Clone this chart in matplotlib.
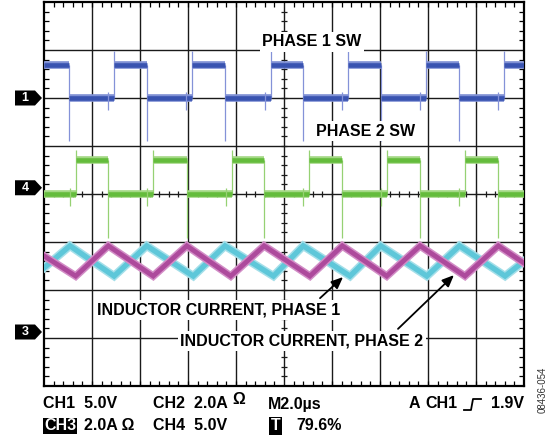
"""Two-phase buck: switch nodes and inductor currents, scope capture."""
import matplotlib.pyplot as plt
from matplotlib.patches import Polygon
from matplotlib.lines import Line2D
from matplotlib.ticker import MultipleLocator
import numpy as np

plt.rcParams['font.family'] = ['Liberation Sans', 'DejaVu Sans']

W, H = 552, 438
T_SPAN_US = 20.0          # 10 div x 2.0 us
N_VDIV = 8

# Phase 1 switch node (CH1, divisions)
PH1_RISE_US = [2.92, 6.15, 9.45, 12.65, 15.90, 19.17]
PH1_FALL_US = [1.05, 4.28, 7.54, 10.80, 14.03, 17.29]
PH1_LEVELS = {"high": 6.69, "low": 6.00, "spike_up": 6.98, "spike_down": 5.10}

# Phase 2 switch node (CH4, divisions)
PH2_RISE_US = [1.32, 4.55, 7.82, 11.05, 14.30, 17.54]
PH2_FALL_US = [2.68, 5.95, 9.17, 12.43, 15.67, 18.90]
PH2_LEVELS = {"high": 4.71, "low": 4.00, "spike_up": 4.92, "spike_down": 3.08}

# Inductor currents (CH3 / CH2), vertex times and levels in divisions
IL1_T_US = [0.0, 1.08, 2.92, 4.28, 6.22, 7.54, 9.56, 10.80, 12.75, 14.03,
            15.95, 17.31, 19.21, 20.0]
IL1_DIV = [2.46, 2.92, 2.29, 2.92, 2.29, 2.92, 2.29, 2.92, 2.29, 2.92,
           2.29, 2.92, 2.29, 2.60]
IL2_T_US = [0.0, 1.32, 2.68, 4.55, 5.95, 7.78, 9.17, 11.08, 12.43, 14.28,
            15.67, 17.54, 18.93, 20.0]
IL2_DIV = [2.71, 2.29, 2.92, 2.29, 2.92, 2.29, 2.92, 2.29, 2.92, 2.29,
           2.92, 2.29, 2.92, 2.56]

# channel ground markers (divisions)
MARKERS = {"1": 6.0, "4": 4.13, "3": 1.125}


def fx(x):
    return x / W


def fy(y):
    return 1 - y / H


def draw_switch(ax, rise, fall, lv, dark, light, edge):
    events = sorted([(t, 1) for t in rise] + [(t, 0) for t in fall])
    level = lv["low"] if events[0][1] == 1 else lv["high"]
    t0 = 0.0
    for t, kind in events + [(T_SPAN_US, None)]:
        ax.hlines(level, t0, t, colors=light, lw=5.5, zorder=3, capstyle="butt")
        ax.hlines(level, t0, t, colors=dark, lw=3.3, zorder=4, capstyle="butt")
        if kind is None:
            break
        level = lv["high"] if kind else lv["low"]
        t0 = t
    ax.vlines(rise, lv["low"], lv["spike_up"], colors=edge, lw=0.9, zorder=3)
    ax.vlines(fall, lv["spike_down"], lv["high"], colors=edge, lw=0.9, zorder=3)
    # small dead-time glitches just ahead of each rising edge
    gl = np.array(rise) - 0.25
    ax.vlines(gl, lv["low"] - 0.25, lv["low"] + 0.12, colors=edge, lw=0.9, zorder=5)


fig = plt.figure(figsize=(W / 100, H / 100), dpi=100)
ax = fig.add_axes([fx(44), 52 / H, 480 / W, 384 / H])
ax.set_xlim(0, T_SPAN_US)
ax.set_ylim(0, N_VDIV)

# graticule
for x in np.arange(2, T_SPAN_US, 2):
    ax.axvline(x, color="#1a1a1a", lw=1.0, zorder=1)
for y in range(1, N_VDIV):
    ax.axhline(y, color="#1a1a1a", lw=1.0, zorder=1)
for s in ax.spines.values():
    s.set_linewidth(1.6)
ax.xaxis.set_minor_locator(MultipleLocator(0.4))
ax.yaxis.set_minor_locator(MultipleLocator(0.2))
ax.tick_params(which="major", length=0, labelbottom=False, labelleft=False)
ax.tick_params(which="minor", direction="in", length=3.8, width=0.9,
               top=True, right=True, bottom=True, left=True)
cx = np.arange(0.4, T_SPAN_US, 0.4)
cy = np.arange(0.2, N_VDIV, 0.2)
ax.plot(cx, np.full_like(cx, N_VDIV / 2), ls="none", marker="|", ms=4.5,
        mew=0.9, color="#1a1a1a", zorder=1)
ax.plot(np.full_like(cy, T_SPAN_US / 2), cy, ls="none", marker="_", ms=4.5,
        mew=0.9, color="#1a1a1a", zorder=1)

# traces
draw_switch(ax, PH1_RISE_US, PH1_FALL_US, PH1_LEVELS,
            "#3953b0", "#7f90d4", "#8492d8")
draw_switch(ax, PH2_RISE_US, PH2_FALL_US, PH2_LEVELS,
            "#64bc3c", "#a3d885", "#96d173")
ax.plot(IL1_T_US, IL1_DIV, color="#a4dfe9", lw=6.0, zorder=3,
        solid_joinstyle="miter")
ax.plot(IL1_T_US, IL1_DIV, color="#5ec7d9", lw=3.8, zorder=4,
        solid_joinstyle="miter")
ax.plot(IL2_T_US, IL2_DIV, color="#d28dc6", lw=5.6, zorder=5,
        solid_joinstyle="miter")
ax.plot(IL2_T_US, IL2_DIV, color="#ad4a9c", lw=3.4, zorder=6,
        solid_joinstyle="miter")

# labels
lab = dict(fontsize=11.5, fontweight="bold", ha="center", va="center", zorder=7,
           bbox=dict(boxstyle="square,pad=0.15", fc="white", ec="none"))
ax.text(11.17, 7.17, "PHASE 1 SW", **lab)
ax.text(13.38, 5.31, "PHASE 2 SW", **lab)
ax.text(7.27, 1.58, "INDUCTOR CURRENT, PHASE 1", **lab)
ax.text(10.75, 0.94, "INDUCTOR CURRENT, PHASE 2", **lab)
arrow = dict(arrowstyle="-|>,head_length=0.7,head_width=0.3", color="black",
             lw=1.3, shrinkA=0, shrinkB=0)
ax.annotate("", xy=(12.46, 2.27), xytext=(11.5, 1.83), arrowprops=arrow, zorder=8)
ax.annotate("", xy=(17.08, 2.31), xytext=(14.75, 1.19), arrowprops=arrow, zorder=8)

# channel ground markers
tr = ax.get_yaxis_transform()
for name, lvl in MARKERS.items():
    h = 7.5 / 48
    x0, x1, x2 = (15 - 44) / 480, (35 - 44) / 480, (42 - 44) / 480
    poly = Polygon([(x0, lvl - h), (x1, lvl - h), (x2, lvl), (x1, lvl + h),
                    (x0, lvl + h)], closed=True, transform=tr, fc="black",
                   ec="none", clip_on=False)
    ax.add_patch(poly)
    ax.text((25 - 44) / 480, lvl, name, transform=tr, color="white",
            fontsize=9, fontweight="bold", ha="center", va="center")

# readout
ro = dict(fontsize=11.5, fontweight="bold", va="center")
fig.text(fx(43), fy(404), "CH1  5.0V", **ro)
fig.text(fx(153), fy(404), "CH2  2.0A", **ro)
fig.text(fx(232), fy(400), "Ω", **ro)
fig.text(fx(268), fy(404), "M2.0µs", **ro)
fig.text(fx(409), fy(404), "A", **ro)
fig.text(fx(425), fy(404), "CH1", **ro)
fig.text(fx(524), fy(404), "1.9V", ha="right", **ro)
fig.add_artist(Line2D([fx(464), fx(471), fx(473), fx(481)],
                      [fy(410), fy(410), fy(399), fy(399)],
                      color="black", lw=1.3, transform=fig.transFigure))
fig.text(fx(44), fy(426), "CH3", color="white",
         bbox=dict(boxstyle="square,pad=0.05", fc="black", ec="none"), **ro)
fig.text(fx(84), fy(426), "2.0A Ω", **ro)
fig.text(fx(153), fy(426), "CH4  5.0V", **ro)
fig.text(fx(270.5), fy(426), "T", color="white",
         bbox=dict(boxstyle="square,pad=0.12", fc="black", ec="none"), **ro)
fig.text(fx(296), fy(426), "79.6%", **ro)
fig.text(fx(543), fy(390), "08436-054", rotation=90, fontsize=7,
         color="#333333", ha="center", va="center")

fig.savefig("out.png", dpi=100)
